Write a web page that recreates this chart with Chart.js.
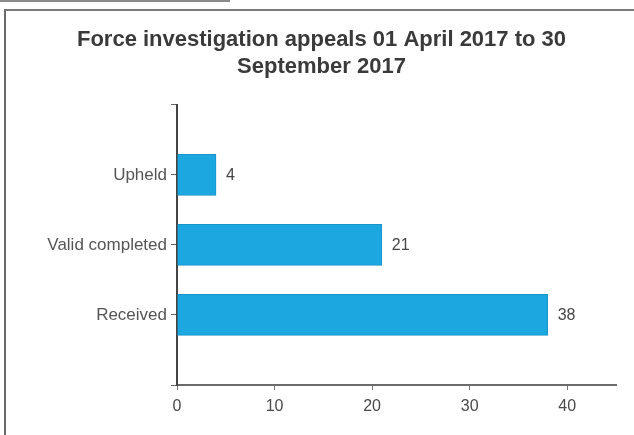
<!DOCTYPE html>
<html>
<head>
<meta charset="utf-8">
<script src="https://cdn.jsdelivr.net/npm/chart.js@4/dist/chart.umd.min.js"></script>
<style>
	html, body { margin: 0; padding: 0; background: #fff; }
	#wrap { position: relative; width: 634px; height: 435px; overflow: hidden; }
	#frame { position: absolute; left: 4px; top: 9px; width: 700px; height: 500px;
		border-left: 2px solid #6a6a6a; border-top: 2px solid #7a7a7a; }
	#topline { position: absolute; left: 0; top: 0; width: 230px; height: 2px; background: #8a8a8a; }
	canvas { position: absolute; left: 0; top: 0; }
</style>
</head>
<body>
<div id="wrap">
	<div id="topline"></div>
	<div id="frame"></div>
	<canvas id="appeals_chart" width="634" height="435"></canvas>
</div>
<script>
// Force investigation appeals, Apr - Sep 2017
const categories = ['', 'Upheld', 'Valid completed', 'Received', ''];
const appeals = [null, 4, 21, 38, null];
const xTicks = [0, 10, 20, 30, 40];

const font = "Arial, 'Liberation Sans', sans-serif";

// writes the count just past the end of each bar
const valueLabels = {
	id: 'valueLabels',
	afterDatasetsDraw(chart) {
		const ctx = chart.ctx;
		const meta = chart.getDatasetMeta(0);
		ctx.save();
		ctx.font = '16px ' + font;
		ctx.fillStyle = '#464646';
		ctx.textAlign = 'left';
		ctx.textBaseline = 'middle';
		meta.data.forEach((bar, i) => {
			if (appeals[i] === null) return;
			ctx.fillText(appeals[i], bar.x + 10, bar.y + 1);
		});
		ctx.restore();
	}
};

const ctx = document.getElementById("appeals_chart").getContext("2d");

let my_chart = new Chart(ctx, {
	type: "bar",
	data: {
		labels: categories,
		datasets: [
		{
			data: appeals,
			backgroundColor: "#1ca7e0",
			borderColor: "#1894cb",
			borderWidth: 1,
			barThickness: 41,
		},
		],
	},
	options: {
		indexAxis: 'y',
		responsive: false,
		animation: false,
		layout: { padding: { left: 27, right: 18, top: 0, bottom: 0 } },
		plugins: {
			legend: { display: false },
			tooltip: { enabled: false },
			title: {
				display: true,
				text: ['Force investigation appeals 01 April 2017 to 30', 'September 2017'],
				color: '#3a3a3a',
				font: { family: font, size: 22, weight: 'bold', lineHeight: 1.2 },
				padding: { top: 27, bottom: 25 },
			},
		},
		scales: {
			x: {
				min: 0,
				max: 45,
				afterFit(scale) { scale.height = 50; },
				afterBuildTicks(scale) {
					scale.ticks = xTicks.map(v => ({ value: v }));
				},
				border: { color: '#6b6b6b', width: 2 },
				grid: { drawOnChartArea: false, tickLength: 5, color: '#777' },
				ticks: {
					color: '#4a4a4a',
					padding: 7,
					font: { family: font, size: 16 },
				},
			},
			y: {
				offset: false,
				afterFit(scale) { scale.width = 150; },
				border: { color: '#444', width: 2 },
				grid: { drawOnChartArea: false, offset: false, tickLength: 6, color: '#666' },
				ticks: {
					color: '#555',
					padding: 4,
					font: { family: font, size: 17 },
				},
			},
		},
	},
	plugins: [valueLabels],
});
</script>
</body>
</html>
